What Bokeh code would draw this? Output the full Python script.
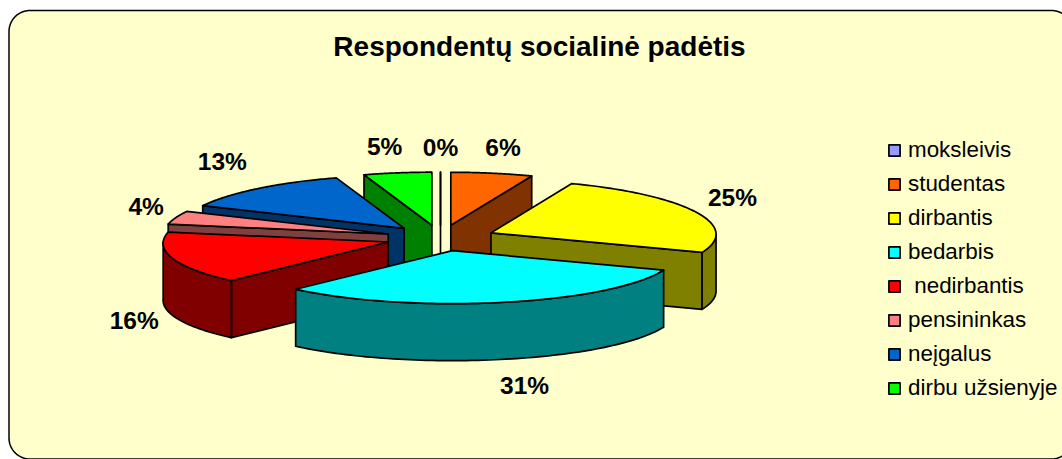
import numpy as np
from bokeh.core.properties import value
from bokeh.embed import file_html
from bokeh.models import Legend, LegendItem, Range1d
from bokeh.plotting import figure
from bokeh.resources import INLINE

# ---- data ----
categories = ["moksleivis", "studentas", "dirbantis", "bedarbis", " nedirbantis",
              "pensininkas", "neįgalus", "dirbu užsienyje"]
percent = [0, 6, 25, 31, 16, 4, 13, 5]
title_text = "Respondentų socialinė padėtis"

# ---- style ----
top_colors = ["#9999FF", "#FF6600", "#FFFF00", "#00FFFF", "#FF0000", "#FF8080", "#0066CC", "#00FF00"]
side_colors = ["#4D4D80", "#803300", "#808000", "#008080", "#800000", "#804040", "#003366", "#008000"]
FONT = "Liberation Sans"
W, H = 1062, 459

# ---- pie projection (window pixels, y down) ----
CX, CY = 440.0, 237.5
RX, RY = 225.0, 53.0
PERSPECTIVE = 0.025
DEPTH = 57.0
EXPLODE = 55.0
label_nudge = [(0, -25), (10, -26), (35, -14), (23, 26), (-40, 5), (-28, -11), (-33, -27), (-12, -26)]
draw_order = [0, 1, 7, 6, 5, 4, 2, 3]

edges = np.radians(np.concatenate([[0], np.cumsum(percent)]) * 3.6)

p = figure(width=W, height=H, x_range=Range1d(0, W), y_range=Range1d(H, 0),
           x_axis_location=None, y_axis_location=None, toolbar_location=None,
           output_backend="svg", min_border=0, outline_line_color=None,
           background_fill_color="white", border_fill_color="white")
p.grid.visible = False

# rounded chart area
L, T, R, B, rad = 8.5, 10.0, W + 10.0, 458.5, 21.0
a = np.linspace(0, np.pi / 2, 24)
fx = np.concatenate([L + rad - rad * np.cos(a), R - rad + rad * np.sin(a),
                     R - rad + rad * np.cos(a), L + rad - rad * np.sin(a)])
fy = np.concatenate([T + rad - rad * np.sin(a), T + rad - rad * np.cos(a),
                     B - rad + rad * np.sin(a), B - rad + rad * np.cos(a)])
p.patch(fx, fy, fill_color="#FFFFCC", line_color="black", line_width=1.5)


def face(xs, ys, color):
    p.patch(xs, ys, fill_color=color, line_color="black", line_width=1.7, line_join="round")


tops = {}
for i in draw_order:
    t1, t2 = edges[i], edges[i + 1]
    mid = (t1 + t2) / 2
    ax = CX + EXPLODE * np.sin(mid)
    ay = CY - EXPLODE * (RY / RX) * np.cos(mid)
    th = np.linspace(t1, t2, 80)
    ex = ax + RX * (1 - PERSPECTIVE * np.cos(th)) * np.sin(th)
    ey = ay - RY * np.cos(th)
    # radial faces that look towards the viewer
    if np.sin(t1) < 0:
        face([ax, ex[0], ex[0], ax], [ay, ey[0], ey[0] + DEPTH, ay + DEPTH], side_colors[i])
    if np.sin(t2) >= 0:
        face([ax, ex[-1], ex[-1], ax], [ay, ey[-1], ey[-1] + DEPTH, ay + DEPTH], side_colors[i])
    # outer wall: the part of the rim on the front half
    front = np.cos(th) <= 0
    if front.sum() > 1:
        wx, wy = ex[front], ey[front]
        face(np.concatenate([wx, wx[::-1]]), np.concatenate([wy, wy[::-1] + DEPTH]), side_colors[i])
    tops[i] = p.patch(np.concatenate([[ax], ex]), np.concatenate([[ay], ey]),
                      fill_color=top_colors[i], line_color="black", line_width=1.7, line_join="round")

# data labels
mids = (edges[:-1] + edges[1:]) / 2
rim_x = CX + (EXPLODE + RX) * np.sin(mids)
rim_y = CY - (EXPLODE * RY / RX + RY) * np.cos(mids) + np.where(np.cos(mids) < 0, DEPTH, 0)
p.text(rim_x + np.array([n[0] for n in label_nudge]),
       rim_y + np.array([n[1] for n in label_nudge]),
       text=[f"{v}%" for v in percent], text_align="center", text_baseline="middle",
       text_font=value(FONT), text_font_style="bold", text_font_size="24.5px", text_color="black")

# title
p.text([539], [46], text=[title_text], text_align="center", text_baseline="middle",
       text_font=value(FONT), text_font_style="bold", text_font_size="28px", text_color="black")

# legend (location is measured in pixels from the frame's bottom left)
legend = Legend(items=[LegendItem(label=value(c), renderers=[tops[i]]) for i, c in enumerate(categories)],
                location=(887, 58), orientation="vertical", glyph_width=14, glyph_height=14,
                label_text_font=FONT, label_text_font_size="22.4px", label_text_color="black",
                label_standoff=7, spacing=8, padding=0, margin=0, label_height=26,
                border_line_color=None, background_fill_alpha=0, click_policy="none")
p.add_layout(legend, "center")

open("out.html", "w").write(file_html(p, INLINE))
